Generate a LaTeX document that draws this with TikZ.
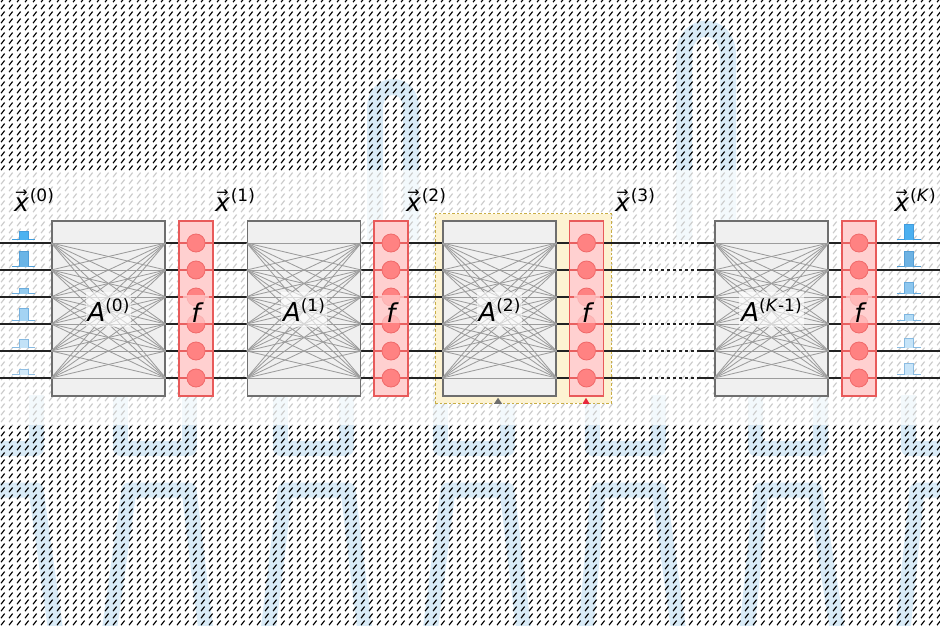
\documentclass[tikz,border=0pt]{standalone}
\usepackage{fontspec}
\setmainfont{DejaVu Sans}
\usetikzlibrary{calc,patterns,positioning,fit,backgrounds}

\definecolor{boxfill}{HTML}{F0F0F0}
\definecolor{boxedge}{HTML}{6E6E6E}
\definecolor{linkgrey}{HTML}{9C9C9C}
\definecolor{wirecol}{HTML}{222222}
\definecolor{actfill}{HTML}{FFD0D0}
\definecolor{actedge}{HTML}{E85A5A}
\definecolor{actline}{HTML}{E86060}
\definecolor{neufill}{HTML}{FF8282}
\definecolor{neuedge}{HTML}{F06A6A}
\definecolor{focusfill}{HTML}{FDF3D2}
\definecolor{focusedge}{HTML}{C9AE45}
\definecolor{tipred}{HTML}{E8283C}
\definecolor{halocol}{HTML}{D9EBF7}
\definecolor{hatchgrey}{HTML}{CCCCCC}
\definecolor{edgeblue}{HTML}{2F7FC0}
\definecolor{pl1}{HTML}{4CB2F0}
\definecolor{pl2}{HTML}{6AB4E6}
\definecolor{pl3}{HTML}{93CAEE}
\definecolor{pl4}{HTML}{A4D3F3}
\definecolor{pl5}{HTML}{C2E2F7}
\definecolor{pl6}{HTML}{D3EAFA}
\definecolor{pr1}{HTML}{4CB0F0}
\definecolor{pr2}{HTML}{6DB2E3}
\definecolor{pr3}{HTML}{8DC6EE}
\definecolor{pr4}{HTML}{B3DBF5}
\definecolor{pr5}{HTML}{C6E4F8}
\definecolor{pr6}{HTML}{C9E5F9}

\pgfdeclarepatternformonly{slashmark}{\pgfqpoint{-1pt}{-1pt}}{\pgfqpoint{9pt}{8pt}}{\pgfqpoint{8pt}{7pt}}{%
	\pgfsetlinewidth{1.15pt}%
	\pgfpathmoveto{\pgfqpoint{1pt}{0.8pt}}\pgfpathlineto{\pgfqpoint{4.6pt}{5.4pt}}%
	\pgfusepath{stroke}%
}

\newcommand{\sups}[1]{\raisebox{10pt}{\fontsize{17}{20}\selectfont\upshape #1}}
\newcommand{\xvec}[1]{{\ooalign{\itshape x\cr\hidewidth\raisebox{14pt}{\fontsize{15}{15}\selectfont\upshape →}\hidewidth\cr}}\hspace{1pt}\sups{(#1)}}

\begin{document}
\begin{tikzpicture}[x=1pt,y=-1pt,
		wire/.style={draw=wirecol,line width=1.5pt},
		actwire/.style={draw=actline,line width=1.5pt},
		link/.style={draw=linkgrey,line width=0.85pt},
		wbox/.style={draw=boxedge,fill=boxfill,line width=1.5pt,minimum width=113pt,minimum height=175pt,inner sep=0pt},
		actbox/.style={draw=actedge,fill=actfill,line width=1.5pt,minimum width=34pt,minimum height=175pt,inner sep=0pt},
		neuron/.style={circle,fill=neufill,draw=neuedge,line width=0.8pt,minimum size=18pt,inner sep=0pt},
		wlabel/.style={fill=white,fill opacity=0.6,text opacity=1,inner xsep=2pt,inner ysep=0pt,text height=30pt,text depth=5pt,font=\fontsize{26}{30}\selectfont},
		flabel/.style={fill=actfill,fill opacity=0.7,text opacity=1,inner sep=0pt,minimum width=26pt,text height=27pt,text depth=1pt,font=\fontsize{26}{30}\selectfont},
		xlabel/.style={inner sep=0pt,font=\fontsize{25}{30}\selectfont},
		focus/.style={draw=focusedge,fill=focusfill,line width=1pt,dash pattern=on 2.5pt off 2pt,inner xsep=7pt,inner ysep=6.5pt},
		halo/.style={draw=halocol,line width=15pt,line join=round}]
			%%%%% START %%%%%
			
			\useasboundingbox (0,0) rectangle (940,626);
			
			\foreach \k/\ax/\fx in {0/108.5/196, 1/304/391, 2/499.5/586.5, K/771.5/859}{
				\node[wbox] (A\k) at (\ax,308.5) {};
				\node[actbox] (f\k) at (\fx,308.5) {};
			}
			\foreach \y [count=\i] in {243,270,297,324,351,378}{
				\coordinate (r\i) at (0,\y);
				\coordinate (e\i) at (940,\y);
			}
			
			% wires and weights
			\foreach \i in {1,...,6}{
				\draw[wire] (r\i) -- (A0.west |- r\i);
				\draw[wire] (f0.east |- r\i) -- (A1.west |- r\i);
				\draw[wire] (f1.east |- r\i) -- (A2.west |- r\i);
				\draw[wire] (f2.east |- r\i) -- ++(33,0) coordinate (d\i);
				\draw[wire,dash pattern=on 3pt off 3pt] (d\i) -- ++(63,0) coordinate (g\i);
				\draw[wire] (g\i) -- (AK.west |- r\i);
				\draw[wire] (fK.east |- r\i) -- (e\i);
				\foreach \k in {0,1,2,K}{
					\draw[wire] (A\k.east |- r\i) -- (f\k.west |- r\i);
					\draw[actwire] (f\k.west |- r\i) -- (f\k.east |- r\i);
					\foreach \j in {1,...,6}
						\draw[link] (A\k.west |- r\i) -- (A\k.east |- r\j);
				}
			}
			
			\foreach \k in {0,1,2,K}
				\foreach \i in {1,...,6}
					\node[neuron] (n\k\i) at (f\k.center |- r\i) {};
			
			\foreach \k/\s in {0/0, 1/1, 2/2, K/\textit{K}-1}{
				\node[wlabel,anchor=base] (la\k) at ($(A\k.center)+(0,13)$) {\itshape A\sups{(\s)}};
				\node[flabel,anchor=base] (lf\k) at ($(f\k.center)+(0,13.5)$) {\itshape f};
			}
			
			\foreach \x/\s [count=\i] in {34/0, 235/1, 426/2, 635/3, 915/\textit{K}}
				\node[xlabel,anchor=base] (x\i) at (\x,211) {\xvec{\s}};
			
			% input and output pulses
			\foreach \h/\c [count=\i] in {8.3/pl1, 15/pl2, 5/pl3, 11.7/pl4, 8.3/pl5, 5/pl6}{
				\fill[\c] ($(r\i)+(19.3,-3.5)$) rectangle ++(9,-\h);
				\draw[\c!60!edgeblue,line width=0.8pt] ($(r\i)+(12,-3.5)$) -- ++(7.3,0) -- ++(0,-\h) -- ++(9,0) -- ++(0,\h) -- ++(7,0);
			}
			\foreach \h/\c [count=\i] in {15/pr1, 15/pr2, 10.7/pr3, 5.7/pr4, 9.3/pr5, 11.3/pr6}{
				\fill[\c] ($(e\i)+(-36,-3.5)$) rectangle ++(9,-\h);
				\draw[\c!60!edgeblue,line width=0.8pt] ($(e\i)+(-43,-3.5)$) -- ++(7,0) -- ++(0,-\h) -- ++(9,0) -- ++(0,\h) -- ++(8,0);
			}
			
			\fill[boxedge] ($(A2.south)+(-5.5,7)$) -- ($(A2.south)+(2.5,7)$) -- ($(A2.south)+(-1.5,1)$) -- cycle;
			\fill[tipred] ($(f2.south)+(-4,7)$) -- ($(f2.south)+(3,7)$) -- ($(f2.south)+(-0.5,1)$) -- cycle;
			
			\begin{scope}[on background layer]
				\fill[white] (0,0) rectangle (940,626);
				\begin{scope}
					\clip (0,0) rectangle (940,626);
					\draw[halo,line width=16pt] (375,240) -- (375,108) .. controls (375,80) and (411,80) .. (411,108) -- (411,240);
					\draw[halo,line width=16pt] (684,240) -- (684,55) .. controls (684,20) and (728,20) .. (728,55) -- (728,240);
					\draw[halo] (-10,448) -- (36,448) -- (36,395);
					\draw[halo] (120,395) -- (120,448) -- (189,448) -- (189,395);
					\draw[halo] (280,395) -- (280,448) -- (346,448) -- (346,395);
					\draw[halo] (440,395) -- (440,448) -- (507,448) -- (507,395);
					\draw[halo] (592,395) -- (592,448) -- (658,448) -- (658,395);
					\draw[halo] (755,395) -- (755,448) -- (820,448) -- (820,395);
					\draw[halo] (908,395) -- (908,448) -- (950,448);
					\draw[halo] (-10,490) -- (36,490) -- (57,640);
					\draw[halo] (108,640) -- (129,490) -- (189,490) -- (207,640);
					\draw[halo] (267,640) -- (285,490) -- (348,490) -- (366,640);
					\draw[halo] (429,640) -- (448,490) -- (507,490) -- (525,640);
					\draw[halo] (585,640) -- (598,490) -- (659,490) -- (680,640);
					\draw[halo] (746,640) -- (761,490) -- (815,490) -- (839,640);
					\draw[halo] (902,640) -- (917,490) -- (950,490);
				\end{scope}
				\fill[white,opacity=0.7] (0,170) rectangle (940,425);
				\fill[pattern=slashmark,pattern color=black] (0,0) rectangle (940,170);
				\fill[pattern=slashmark,pattern color=black] (0,425) rectangle (940,626);
				\fill[pattern=slashmark,pattern color=hatchgrey] (0,170) rectangle (940,425);
				\node[focus,fit=(A2)(f2)] (foc) {};
			\end{scope}
			
			%%%%% END %%%%%
		\end{tikzpicture}
\end{document}
